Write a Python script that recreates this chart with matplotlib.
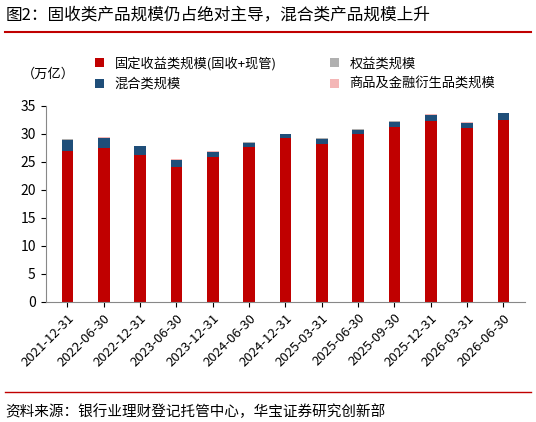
import numpy as np
import matplotlib.pyplot as plt

plt.rcParams['font.family'] = ['Noto Sans CJK SC', 'DejaVu Sans']

dates = ['2021-12-31', '2022-06-30', '2022-12-31', '2023-06-30', '2023-12-31', '2024-06-30',
         '2024-12-31', '2025-03-31', '2025-06-30', '2025-09-30', '2025-12-31', '2026-03-31', '2026-06-30']
fixed = [26.8, 27.4, 26.2, 24.1, 25.8, 27.6, 29.2, 28.2, 29.9, 31.2, 32.3, 30.9, 32.5]
mixed = [2.1, 1.8, 1.5, 1.2, 0.9, 0.8, 0.7, 0.9, 0.8, 0.9, 1.0, 1.0, 1.1]
equity = [0.05] * 13
commod = [0.05] * 13

fig = plt.figure(figsize=(5.36, 4.22), dpi=100)
ax = fig.add_axes([0.085, 0.285, 0.895, 0.465])
x = np.arange(len(dates))
w = 0.32
b = np.array(fixed)
ax.bar(x, fixed, w, color='#c00000', label='固定收益类规模(固收+现管)')
ax.bar(x, mixed, w, bottom=b, color='#1f4e79', label='混合类规模')
b = b + np.array(mixed)
ax.bar(x, equity, w, bottom=b, color='#b0b0b0', label='权益类规模')
b = b + np.array(equity)
ax.bar(x, commod, w, bottom=b, color='#f4b6b6', label='商品及金融衍生品类规模')

ax.set_ylim(0, 35)
ax.set_yticks(range(0, 36, 5))
ax.set_xlim(-0.6, len(dates) - 0.4)
ax.set_xticks(x)
ax.set_xticklabels(dates, rotation=45, ha='right', rotation_mode='anchor', fontsize=9.5)
ax.tick_params(axis='y', labelsize=10)
for s in ['top', 'right']:
    ax.spines[s].set_visible(False)
for s in ['left', 'bottom']:
    ax.spines[s].set_color('#888888')

h, l = ax.get_legend_handles_labels()
fig.legend(h, l, ncol=2, frameon=False,
           loc='upper left', bbox_to_anchor=(0.155, 0.895), fontsize=9.5,
           handlelength=0.7, handleheight=0.7, columnspacing=4.0, labelspacing=0.6)
fig.text(0.04, 0.815, '（万亿）', fontsize=9.5)

fig.text(0.01, 0.955, '图2：固收类产品规模仍占绝对主导，混合类产品规模上升', fontsize=12)
fig.add_artist(plt.Line2D([0.01, 0.99], [0.925, 0.925], color='#c00000', lw=1.5))
fig.add_artist(plt.Line2D([0.01, 0.99], [0.07, 0.07], color='#c00000', lw=1.0))
fig.text(0.01, 0.015, '资料来源：银行业理财登记托管中心，华宝证券研究创新部', fontsize=10.5)

fig.savefig('out.png')
